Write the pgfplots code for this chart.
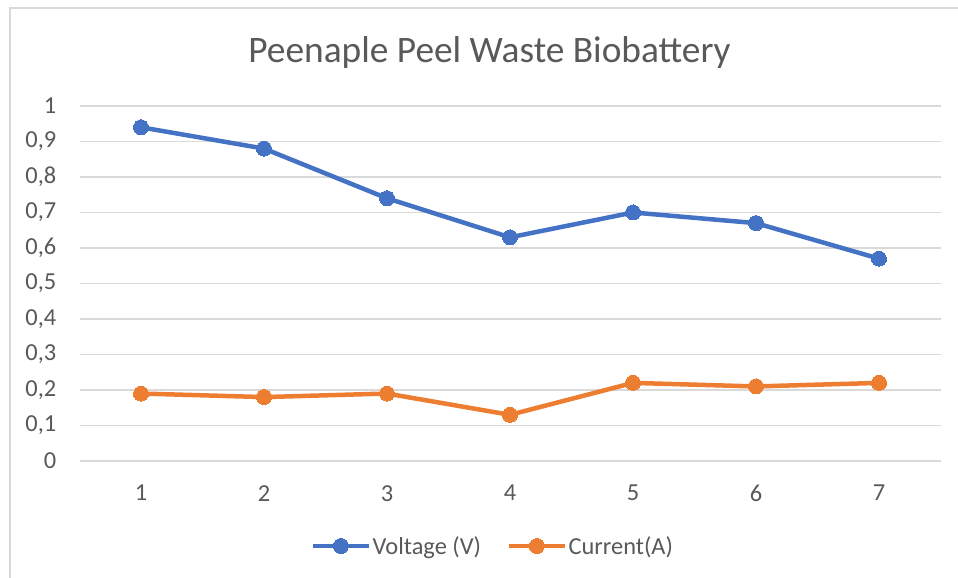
\documentclass[border=0pt]{standalone}
\usepackage{fontspec}
\setmainfont{Carlito}
\usepackage{pgfplots}
\pgfplotsset{compat=1.18}
\definecolor{vblue}{HTML}{4472C4}
\definecolor{corange}{HTML}{ED7D31}
\definecolor{gridgray}{HTML}{D9D9D9}
\definecolor{textgray}{HTML}{595959}
\begin{document}
\begin{tikzpicture}[x=1bp,y=1bp]
\useasboundingbox (0,0) rectangle (958,578);
\fill[white] (0,0) rectangle (958,578);
\draw[gridgray, line width=1.5bp] (10,-20) -- (10,570) -- (980,570);
\node[anchor=base, text=textgray, font=\fontsize{37.5}{42}\selectfont, inner sep=0pt] at (489.5,515) {Peenaple Peel Waste Biobattery};
\begin{axis}[
  at={(79.5bp,117bp)}, anchor=south west,
  scale only axis, width=861bp, height=355bp,
  xmin=0.5, xmax=7.5, ymin=0, ymax=1,
  xtick={1,2,3,4,5,6,7},
  xticklabels={1,2,3,4,5,6,7},
  ytick={0,0.1,0.2,0.3,0.4,0.5,0.6,0.7,0.8,0.9,1},
  yticklabels={0,{0,1},{0,2},{0,3},{0,4},{0,5},{0,6},{0,7},{0,8},{0,9},1},
  axis line style={draw=none},
  major tick length=0pt,
  ymajorgrids,
  major grid style={gridgray, line width=1.3bp},
  ticklabel style={font=\fontsize{24.5}{26}\selectfont, text=textgray, inner sep=0pt},
  yticklabel style={anchor=east, xshift=-23bp},
  xticklabel style={anchor=north, yshift=-24bp},
  legend columns=2,
  legend style={at={(0.4797,-0.2394)}, anchor=center, draw=none, fill=none,
    font=\fontsize{24.5}{26}\selectfont, text=textgray,
    nodes={inner sep=1.5bp},
    /tikz/every even column/.append style={column sep=24bp}},
  legend image code/.code={\draw[mark repeat=2,mark phase=2,#1] plot coordinates {(0bp,0bp) (28bp,0bp) (56bp,0bp)};},
  every axis plot/.append style={line width=4.5bp, mark=*, mark size=7.5bp},
  clip=false,
]
\addplot[color=vblue, mark options={fill=vblue, draw=vblue, line width=0pt}] coordinates {
(1,0.94) (2,0.88) (3,0.74) (4,0.63) (5,0.70) (6,0.67) (7,0.57)};
\addlegendentry{Voltage (V)}
\addplot[color=corange, mark options={fill=corange, draw=corange, line width=0pt}] coordinates {
(1,0.19) (2,0.18) (3,0.19) (4,0.13) (5,0.22) (6,0.21) (7,0.22)};
\addlegendentry{Current(A)}
\end{axis}
\end{tikzpicture}
\end{document}
